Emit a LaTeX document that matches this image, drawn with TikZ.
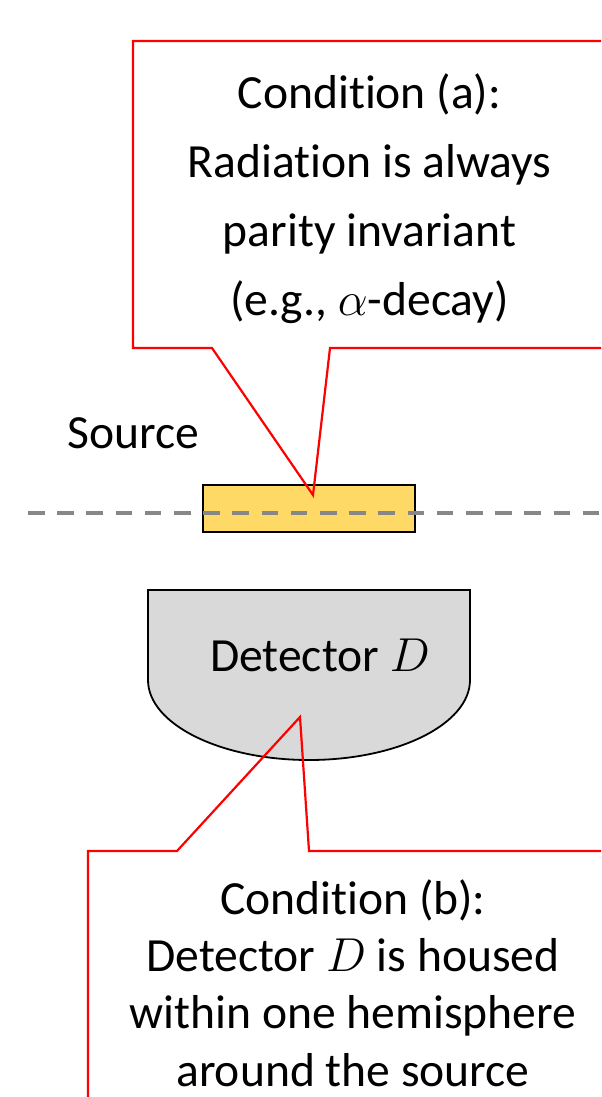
\documentclass[tikz,border=0pt]{standalone}
\usepackage{fix-cm}
\usepackage{fontspec}
\setmainfont{Carlito}[RawFeature={-liga;-clig;-dlig;-calt}]
\usetikzlibrary{positioning}
\definecolor{srcyellow}{HTML}{FFD966}
\definecolor{detgray}{HTML}{D9D9D9}
\definecolor{axisgray}{HTML}{878787}
\tikzstyle{txt} = [inner sep=0pt, align=center, font=\fontsize{23.8}{28.7}\selectfont]
\tikzstyle{bigtxt} = [txt, font=\fontsize{23.8}{34.5}\selectfont]
\tikzstyle{source} = [rectangle, draw=black, line width=0.9pt, fill=srcyellow, minimum width=106pt, minimum height=23.5pt, inner sep=0pt]
\tikzstyle{detector} = [draw=black, line width=0.9pt, fill=detgray]
\tikzstyle{callout} = [draw=red, line width=1.1pt, line join=miter]
\tikzstyle{axis} = [draw=axisgray, line width=1.6pt, dash pattern=on 8.3pt off 6.3pt]

\begin{document}
\begin{tikzpicture}[x=0.5pt, y=-0.5pt]
            \useasboundingbox (0,0) rectangle (601,1097);
            \clip (0,0) rectangle (601,1097);

            % source and axis
            \node [source] at (309,508.5) (src) {};
            \coordinate (axisL) at (28,513);
            \coordinate (axisR) at (610,513);
            \draw [axis] (axisL) -- (axisR);
            \node [txt] at (133,433) (srclabel) {Source};

            % detector
            \draw [detector] (148,590) -- (470,590) -- (470,680)
                .. controls (470,724) and (398,760) .. (309,760)
                .. controls (220,760) and (148,724) .. (148,680) -- cycle;
            \node [txt] at (320,655) (det) {Detector $D$};

            % condition (a)
            \coordinate (tipA) at (313,495);
            \draw [callout] (610,348) -- (330,348) -- (tipA) -- (212,348)
                -- (133,348) -- (133,41) -- (610,41);
            \node [bigtxt] at (369.5,199) (condA) {Condition (a):\\Radiation is always\\parity invariant\\(e.g., $\alpha$-decay)};

            % condition (b)
            \coordinate (tipB) at (300,717);
            \draw [callout] (610,851) -- (309,851) -- (tipB) -- (177,851)
                -- (88,851) -- (88,1110);
            \node [txt] at (353,983) (condB) {Condition (b):\\Detector $D$ is housed\\within one hemisphere\\around the source};
            \end{tikzpicture}
\end{document}
